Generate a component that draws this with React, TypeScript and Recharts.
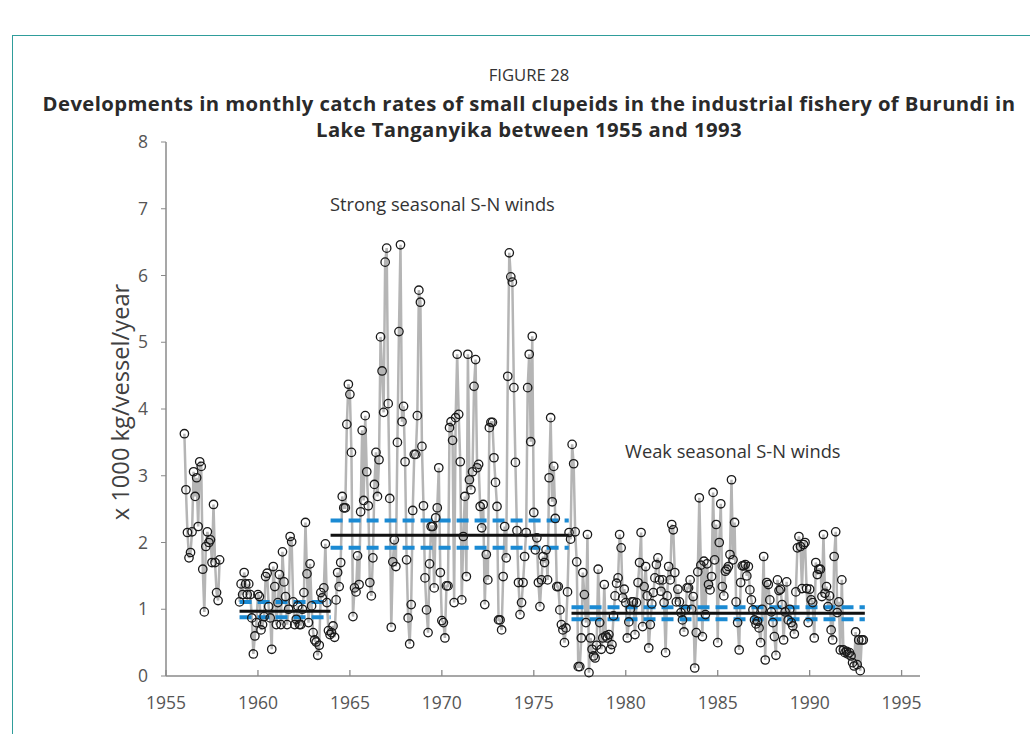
import React from 'react';
import { ComposedChart, Line, XAxis, YAxis, ReferenceLine } from 'recharts';

// Monthly catch rates (x 1000 kg/vessel/year)
const ratesEarly = [
  3.63, 2.79, 2.15, 1.77, 1.85, 2.16, 3.06, 2.69, 2.97, 2.24, 3.21, 3.14,
  1.6, 0.96, 1.94, 2.16, 2.0, 2.04, 1.7, 2.57, 1.7, 1.25, 1.13, 1.74,
];
const earlyStartYear = 1956;

const ratesLow1959 = [
  1.11, 1.38, 1.22, 1.55,
  1.38, 1.22, 1.38, 1.22, 0.87, 0.33, 0.6, 0.8, 1.22, 1.19, 0.69, 0.77,
  0.89, 1.49, 1.54, 1.04, 0.87, 0.4, 1.64, 1.34, 0.77, 1.1, 1.52, 0.77,
  1.86, 1.41, 1.19, 0.77, 1.0, 2.09, 2.01, 1.11, 0.77, 0.85, 1.05, 0.77,
  0.77, 1.0, 1.25, 2.3, 1.53, 0.8, 1.68, 1.05, 0.65, 0.54, 0.51, 0.31,
  0.46, 1.25, 1.17, 1.32, 1.98, 1.1, 0.68, 0.62, 0.65, 0.75, 0.58, 1.14,
];
const ratesStrong = [
  1.55, 1.34, 1.7, 2.69, 2.52, 2.52, 3.77, 4.37, 4.22, 3.35, 0.89, 1.32,
  1.26, 1.8, 1.37, 2.46, 3.68, 2.63, 3.9, 3.06, 2.55, 1.4, 1.2, 1.77,
  2.87, 3.35, 2.69, 3.24, 5.08, 4.57, 3.95, 6.2, 6.41, 4.08, 2.66, 0.73,
  1.71, 2.04, 1.64, 3.5, 5.16, 6.46, 3.81, 4.04, 3.21, 1.74, 0.87, 0.48,
  1.07, 2.48, 3.32, 3.32, 3.9, 5.78, 5.6, 3.44, 2.55, 1.47, 0.99, 0.65,
  1.68, 2.24, 2.24, 1.32, 2.37, 2.52, 3.12, 1.55, 0.83, 0.8, 0.57, 1.35,
  1.35, 3.72, 3.81, 3.53, 1.1, 3.87, 4.82, 3.92, 3.21, 1.14, 2.09, 2.69,
  1.49, 4.82, 2.94, 2.79, 3.06, 4.34, 4.74, 3.12, 3.17, 2.54, 2.22, 2.57,
  1.07, 1.82, 1.44, 3.72, 3.8, 3.8, 3.27, 2.9, 2.54, 0.84, 0.84, 0.69,
  1.49, 2.24, 1.77, 4.49, 6.34, 5.98, 5.9, 4.32, 3.2, 2.18, 1.4, 0.92,
  1.1, 1.4, 1.79, 2.15, 4.32, 4.82, 3.51, 5.09, 2.45, 1.89, 2.07, 1.4,
  1.04, 1.44, 1.79, 1.7, 1.89, 1.44, 2.97, 3.87, 2.61, 3.14, 2.36, 1.34,
  1.34, 0.99, 0.77, 0.69, 0.5, 0.72, 1.26, 2.15, 2.05, 3.47, 3.18, 2.16,
];
const ratesWeak = [
  1.71, 0.14, 0.14, 0.57, 1.55, 1.22, 0.8, 2.12, 0.05, 0.57, 0.4, 0.3,
  0.27, 0.46, 1.6, 0.8, 0.4, 0.57, 1.37, 0.6, 0.57, 0.62, 0.4, 0.47,
  0.9, 1.2, 1.39, 1.47, 2.12, 1.92, 1.17, 1.3, 1.1, 0.57, 0.81, 1.0,
  1.11, 1.11, 0.62, 1.1, 1.4, 1.7, 2.15, 0.74, 1.34, 1.64, 1.2, 0.42,
  0.77, 1.08, 1.25, 1.47, 1.67, 1.77, 1.44, 1.27, 1.44, 1.1, 0.35, 1.2,
  1.64, 1.44, 2.27, 2.19, 1.55, 1.11, 1.3, 1.11, 0.95, 0.84, 0.66, 1.0,
  1.32, 1.32, 1.44, 1.0, 1.19, 0.12, 0.65, 1.56, 2.67, 1.66, 0.59, 1.72,
  0.92, 1.68, 1.37, 1.29, 1.49, 2.75, 1.74, 2.27, 0.5, 2.0, 2.58, 1.34,
  1.2, 1.57, 1.6, 1.64, 1.82, 2.94, 1.74, 2.3, 1.11, 0.8, 0.39, 1.4,
  1.65, 1.65, 1.67, 1.5, 1.64, 1.29, 1.14, 0.99, 0.84, 0.78, 0.82, 0.72,
  0.5, 1.0, 1.79, 0.24, 1.4, 1.37, 1.14, 0.96, 0.8, 0.59, 0.31, 1.44,
  1.28, 1.3, 1.07, 0.54, 0.96, 1.41, 0.84, 1.0, 0.8, 0.75, 0.63, 1.26,
  1.92, 2.09, 1.94, 1.31, 1.97, 2.0, 1.31, 0.8, 1.3, 1.14, 1.1, 0.57,
  1.7, 1.52, 1.6, 1.6, 1.19, 2.12, 1.24, 1.34, 1.04, 1.2, 0.69, 0.54,
  1.79, 2.16, 0.95, 1.11, 0.39, 1.44, 0.39, 0.35, 0.37, 0.33, 0.35, 0.3,
  0.2, 0.15, 0.66, 0.17, 0.54, 0.08, 0.54, 0.54,
];
const mainStartYear = 1959;

// Period means and confidence bands
const periodStart = [1959.0, 1963.95, 1977.05];
const periodEnd = [1963.95, 1976.9, 1993.0];
const periodMean = [0.97, 2.11, 0.94];
const periodUpper = [1.11, 2.33, 1.03];
const periodLower = [0.88, 1.92, 0.85];

const xTicks = [1955, 1960, 1965, 1970, 1975, 1980, 1985, 1990, 1995];
const yTicks = [0, 1, 2, 3, 4, 5, 6, 7, 8];

const titleTop = 'FIGURE 28';
const titleLine1 = 'Developments in monthly catch rates of small clupeids in the industrial fishery of Burundi in';
const titleLine2 = 'Lake Tanganyika between 1955 and 1993';
const yLabel = 'x 1000 kg/vessel/year';
const noteStrong = 'Strong seasonal S-N winds';
const noteWeak = 'Weak seasonal S-N winds';

const earlyData = ratesEarly.map((v, i) => ({ x: earlyStartYear + i / 12, y: v }));
const mainData = [...ratesLow1959, ...ratesStrong, ...ratesWeak].map((v, i) => ({
  x: mainStartYear + i / 12,
  y: v,
}));

const FONT = '"Open Sans", "Noto Sans", sans-serif';
const AXIS_COLOR = '#8a8a8a';
const TICK_COLOR = '#555555';

const XTick = (props: any) => {
  const { x, y, payload } = props;
  return (
    <g>
      <line x1={x} x2={x} y1={y} y2={y - 6} stroke={AXIS_COLOR} strokeWidth={1.3} />
      <text x={x} y={y + 33} textAnchor="middle" fill={TICK_COLOR} fontSize={17.5} fontFamily={FONT}>
        {payload.value}
      </text>
    </g>
  );
};

const dotStyle = { r: 4.2, stroke: '#1a1a1a', strokeWidth: 1.3, fill: 'none' };

export default function App() {
  return (
    <div style={{ position: 'absolute', left: 0, top: 0, width: 1030, height: 734, background: '#fff', overflow: 'hidden' }}>
      <ComposedChart width={1030} height={734} margin={{ top: 142, right: 110, bottom: 28, left: 0 }}>
        <XAxis
          dataKey="x"
          type="number"
          domain={[1955, 1996]}
          ticks={xTicks}
          allowDataOverflow
          height={30}
          tickSize={0}
          tickMargin={0}
          tickLine={false}
          tick={<XTick />}
          axisLine={{ stroke: AXIS_COLOR, strokeWidth: 1.5 }}
        />
        <YAxis
          type="number"
          domain={[0, 8]}
          ticks={yTicks}
          width={166}
          tickSize={5}
          tickMargin={13}
          tick={{ fill: TICK_COLOR, fontSize: 17.5, fontFamily: FONT }}
          tickLine={{ stroke: AXIS_COLOR }}
          axisLine={{ stroke: AXIS_COLOR, strokeWidth: 1.5 }}
        />
        <Line
          data={earlyData}
          dataKey="y"
          type="linear"
          stroke="#b5b5b5"
          strokeWidth={2.5}
          dot={dotStyle}
          activeDot={false}
          isAnimationActive={false}
        />
        <Line
          data={mainData}
          dataKey="y"
          type="linear"
          stroke="#b5b5b5"
          strokeWidth={2.5}
          dot={dotStyle}
          activeDot={false}
          isAnimationActive={false}
        />
        {periodStart.map((s, i) => (
          <ReferenceLine
            key={'u' + i}
            segment={[{ x: s, y: periodUpper[i] }, { x: periodEnd[i], y: periodUpper[i] }]}
            stroke="#1b8ad3"
            strokeWidth={4}
            strokeDasharray="12 6"
          />
        ))}
        {periodStart.map((s, i) => (
          <ReferenceLine
            key={'l' + i}
            segment={[{ x: s, y: periodLower[i] }, { x: periodEnd[i], y: periodLower[i] }]}
            stroke="#1b8ad3"
            strokeWidth={4}
            strokeDasharray="12 6"
          />
        ))}
        {periodStart.map((s, i) => (
          <ReferenceLine
            key={'m' + i}
            segment={[{ x: s, y: periodMean[i] }, { x: periodEnd[i], y: periodMean[i] }]}
            stroke="#111111"
            strokeWidth={3}
          />
        ))}
      </ComposedChart>

      <div style={{ position: 'absolute', left: 12, top: 35, width: 1100, height: 800, borderLeft: '1.5px solid #2f9d9b', borderTop: '1.5px solid #2f9d9b', pointerEvents: 'none' }} />

      <div style={{ position: 'absolute', left: 29, width: 1000, top: 63, textAlign: 'center', fontFamily: FONT, fontSize: 16.7, color: '#333', lineHeight: '24px' }}>
        {titleTop}
      </div>
      <div style={{ position: 'absolute', left: 29, width: 1000, top: 89.5, textAlign: 'center', fontFamily: FONT, fontSize: 20.3, letterSpacing: 0.4, fontWeight: 700, color: '#2a2a2a', lineHeight: '26px', whiteSpace: 'nowrap' }}>
        <div>{titleLine1}</div>
        <div>{titleLine2}</div>
      </div>

      <div style={{ position: 'absolute', left: 120, top: 402, transform: 'translate(-50%, -50%) rotate(-90deg)', whiteSpace: 'nowrap', fontFamily: FONT, fontSize: 23.7, color: '#404040' }}>
        {yLabel}
      </div>

      <div style={{ position: 'absolute', left: 330, top: 191, whiteSpace: 'nowrap', fontFamily: FONT, fontSize: 18.3, color: '#333' }}>
        {noteStrong}
      </div>
      <div style={{ position: 'absolute', left: 625, top: 438, whiteSpace: 'nowrap', fontFamily: FONT, fontSize: 18.3, color: '#333' }}>
        {noteWeak}
      </div>
    </div>
  );
}
